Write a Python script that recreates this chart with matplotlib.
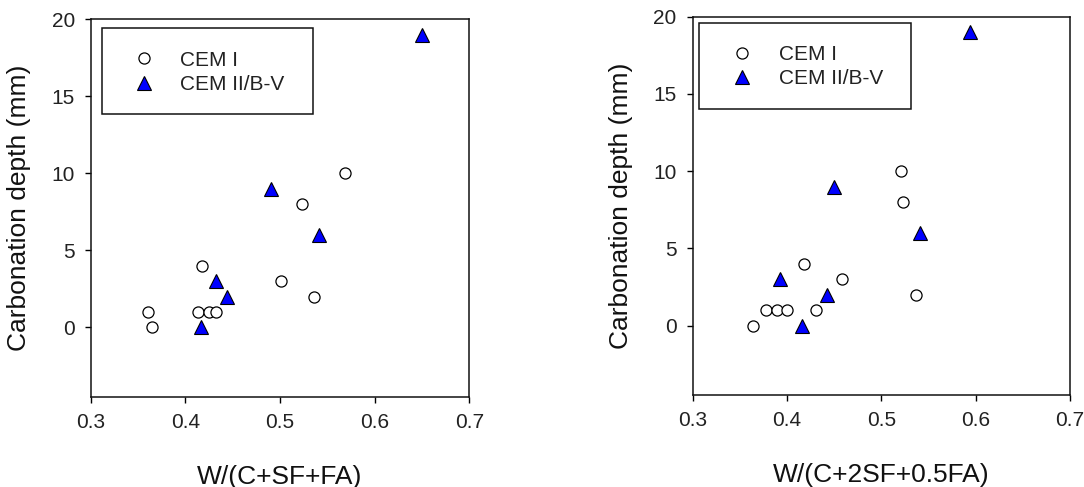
import matplotlib.pyplot as plt
from matplotlib.patches import Rectangle

plt.rcParams['font.family'] = ['Liberation Sans', 'DejaVu Sans']

# CEM I and CEM II/B-V carbonation depths (mm) against two binder ratios
cem1_depth = [1, 0, 1, 1, 1, 4, 3, 8, 10, 2]
cem1_x_a = [0.361, 0.365, 0.413, 0.425, 0.432, 0.418, 0.501, 0.523, 0.569, 0.536]
cem1_depth_b = [0, 1, 1, 1, 1, 4, 3, 10, 8, 2]
cem1_x_b = [0.364, 0.378, 0.389, 0.400, 0.431, 0.418, 0.458, 0.521, 0.523, 0.537]

cem2_depth = [19, 9, 6, 3, 2, 0]
cem2_x_a = [0.650, 0.490, 0.541, 0.432, 0.444, 0.417]
cem2_x_b = [0.594, 0.450, 0.541, 0.393, 0.442, 0.416]

xlabels = ['W/(C+SF+FA)', 'W/(C+2SF+0.5FA)']
xticks = [0.3, 0.4, 0.5, 0.6, 0.7]
yticks = [0, 5, 10, 15, 20]

fig = plt.figure(figsize=(10.84, 4.87), dpi=100)
axes = [fig.add_axes([0.0837, 0.1854, 0.3493, 0.775]),
        fig.add_axes([0.6390, 0.1889, 0.3481, 0.7768])]

panels = [(cem1_x_a, cem1_depth, cem2_x_a),
          (cem1_x_b, cem1_depth_b, cem2_x_b)]
# legend box and entry placement (axes coords) for each panel
boxes = [(0.029, 0.749, 0.558, 0.227), (0.016, 0.756, 0.562, 0.228)]
leg_anchor = [(0.113, 0.917), (0.104, 0.925)]
label_y = [-0.212, -0.211]

for ax, (xc, yc, xt), xl, box, anc, ly in zip(axes, panels, xlabels, boxes, leg_anchor, label_y):
    ax.plot(xc, yc, 'o', ms=8, mfc='white', mec='black', mew=0.9,
            ls='none', label='CEM I', clip_on=False)
    ax.plot(xt, cem2_depth, '^', ms=9.5, mfc='#0000ff', mec='black', mew=0.8,
            ls='none', label='CEM II/B-V', clip_on=False)

    ax.set_xlim(0.3, 0.7)
    ax.set_ylim(-4.5, 20)
    ax.set_xticks(xticks)
    ax.set_xticklabels([f'{t:.1f}' for t in xticks])
    ax.set_yticks(yticks)
    ax.tick_params(direction='out', length=4.5, width=1, labelsize=15,
                   pad=7, color='black', labelcolor='#222222')
    for s in ax.spines.values():
        s.set_linewidth(1.1)
        s.set_color('#111111')

    ax.set_xlabel(xl, fontsize=19, va='center', color='#111111')
    ax.xaxis.set_label_coords(0.5, ly)
    ax.set_ylabel('Carbonation depth (mm)', fontsize=19, va='center', color='#111111')
    ax.yaxis.set_label_coords(-0.19, 0.5)

    ax.add_patch(Rectangle(box[:2], box[2], box[3], transform=ax.transAxes,
                           fill=False, lw=1.1, ec='#111111'))
    ax.legend(loc='upper left', bbox_to_anchor=anc, frameon=False,
              fontsize=15, borderpad=0, borderaxespad=0, handlelength=1.0,
              handletextpad=1.25, labelspacing=0.25, labelcolor='#222222')

fig.savefig('out.png', dpi=100)
